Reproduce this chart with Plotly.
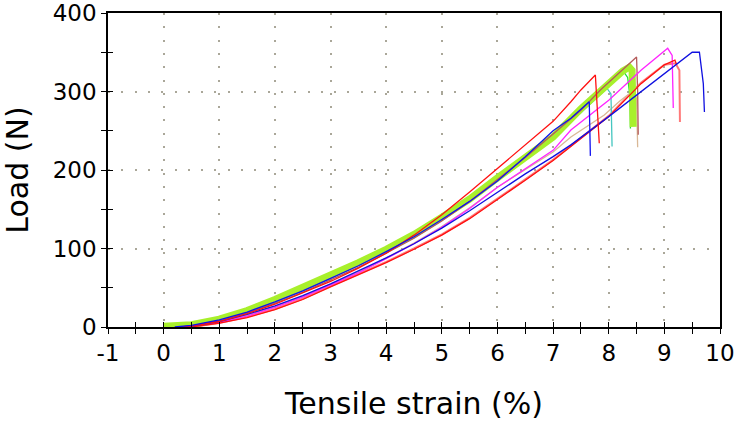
import plotly.graph_objects as go

# ---- data (strain %, load N) ----
lime_x = [0.0, 0.5, 1, 1.5, 2, 2.5, 3, 3.5, 4, 4.5, 5, 5.5, 6, 6.5, 7, 7.5, 8, 8.25, 8.37, 8.42, 8.44]
lime_y = [1, 3, 10, 21, 35, 50, 66, 82, 99, 118, 140, 163, 190, 215, 242, 278, 312, 326, 331, 327, 255]

blue1_x = [0.2, 0.5, 1, 1.5, 2, 2.5, 3, 3.5, 4, 4.5, 5, 5.5, 6, 6.5, 7, 7.32, 7.65, 7.67]
blue1_y = [0, 2, 9, 19, 32, 46, 62, 78, 96, 115, 137, 160, 186, 217, 250, 266, 287, 218]

red1_x = [0.3, 0.5, 1, 1.5, 2, 2.5, 3, 3.5, 4, 4.5, 5, 5.5, 6, 6.5, 7, 7.32, 7.5, 7.76, 7.78, 7.83]
red1_y = [0, 1, 7, 17, 29, 43, 58, 75, 94, 117, 143, 172, 202, 232, 262, 287, 302, 321, 300, 234]

brown_x = [0.3, 0.5, 1, 1.5, 2, 2.5, 3, 3.5, 4, 4.5, 5, 5.5, 6, 6.5, 7, 7.5, 7.85, 8.2, 8.5, 8.52, 8.53]
brown_y = [0, 1, 8, 18, 30, 44, 60, 76, 94, 113, 135, 160, 188, 216, 246, 276, 302, 325, 344, 300, 245]

cyan_x = [0.3, 0.5, 1, 1.5, 2, 2.5, 3, 3.5, 4, 4.5, 5, 5.5, 6, 6.5, 7, 7.5, 7.97, 8.04, 8.06]
cyan_y = [0, 1, 8, 19, 32, 46, 62, 79, 97, 117, 139, 163, 190, 216, 244, 273, 304, 297, 230]

green_x = [0.2, 0.5, 1, 1.5, 2, 2.5, 3, 3.5, 4, 4.5, 5, 5.5, 6, 6.5, 7, 7.5, 8, 8.26, 8.34, 8.38, 8.39]
green_y = [0, 2, 9, 20, 33, 47, 63, 80, 98, 117, 139, 162, 189, 215, 243, 276, 308, 326, 318, 295, 253]

tan_x = [0.4, 0.5, 1, 1.5, 2, 2.5, 3, 3.5, 4, 4.5, 5, 5.5, 6, 6.5, 7, 7.32, 7.92, 8.2, 8.46, 8.5, 8.52]
tan_y = [0, 1, 6, 15, 26, 39, 54, 70, 88, 107, 128, 152, 178, 200, 223, 242, 270, 288, 302, 290, 229]

magenta_x = [0.4, 0.5, 1, 1.5, 2, 2.5, 3, 3.5, 4, 4.5, 5, 5.5, 6, 6.5, 7, 7.32, 8, 8.58, 9.06, 9.14, 9.16]
magenta_y = [0, 1, 6, 14, 25, 38, 53, 69, 87, 106, 127, 151, 178, 202, 225, 251, 289, 327, 355, 346, 279]

blue2_x = [0.3, 0.5, 1, 1.5, 2, 2.5, 3, 3.5, 4, 4.5, 5, 5.5, 6, 6.5, 7, 7.32, 8, 8.58, 9, 9.37, 9.5, 9.63, 9.7, 9.72]
blue2_y = [0, 1, 7, 16, 27, 40, 55, 71, 88, 106, 126, 148, 172, 195, 217, 232, 268, 300, 323, 344, 350, 350, 310, 274]

red2_x = [0.4, 0.5, 1, 1.5, 2, 2.5, 3, 3.5, 4, 4.5, 5, 5.5, 6, 6.5, 7, 7.32, 8, 8.58, 9, 9.19, 9.22]
red2_y = [0, 0, 5, 12, 22, 35, 51, 66, 82, 99, 117, 138, 162, 187, 212, 230, 268, 310, 334, 340, 334]

salmon_x = [0.4, 0.5, 1, 1.5, 2, 2.5, 3, 3.5, 4, 4.5, 5, 5.5, 6, 6.5, 7, 7.32, 8, 8.58, 9, 9.2, 9.27, 9.28]
salmon_y = [0, 0, 5, 13, 23, 36, 52, 67, 83, 100, 118, 139, 163, 188, 213, 231, 269, 311, 334, 336, 327, 261]

x_ticks = [-1, 0, 1, 2, 3, 4, 5, 6, 7, 8, 9, 10]
y_ticks = [0, 100, 200, 300, 400]

series = [
    (salmon_x, salmon_y, "#ff7a7a", 2),
    (tan_x, tan_y, "#d9b896", 1.3),
    (cyan_x, cyan_y, "#45c6c0", 1.3),
    (green_x, green_y, "#22dd33", 1.3),
    (lime_x, lime_y, "#a8f02c", 7),
    (brown_x, brown_y, "#b45a5a", 1.3),
    (magenta_x, magenta_y, "#ff22ff", 1.3),
    (red2_x, red2_y, "#ff1010", 1.3),
    (blue2_x, blue2_y, "#1010e0", 1.3),
    (red1_x, red1_y, "#ff1010", 1.3),
    (blue1_x, blue1_y, "#1010f0", 1.3),
]

fig = go.Figure()
for xs, ys, col, w in series:
    fig.add_trace(go.Scatter(x=xs, y=ys, mode="lines",
                             line=dict(color=col, width=w), showlegend=False,
                             hoverinfo="skip"))

# invisible trace on the overlay axes so they render
fig.add_trace(go.Scatter(x=[-1], y=[0], xaxis="x2", yaxis="y2", mode="markers",
                         marker=dict(opacity=0), showlegend=False, hoverinfo="skip"))

font = "DejaVu Sans, Verdana, sans-serif"
grid = dict(showgrid=True, gridcolor="#aaa799", gridwidth=2, griddash="2px,11.3px")

fig.update_layout(
    width=736, height=423,
    margin=dict(l=108, r=16, t=13, b=96),
    paper_bgcolor="white", plot_bgcolor="white",
    font=dict(family=font, color="black"),
    hovermode=False,
    xaxis=dict(range=[-1, 10], tickmode="array", tickvals=x_ticks,
               ticktext=[str(v) for v in x_ticks], automargin=False,
               ticks="outside", ticklen=5, tickwidth=1.3, tickcolor="black",
               minor=dict(dtick=0.5, ticks="outside", ticklen=5, tickwidth=1.3,
                          tickcolor="black", showgrid=False),
               showline=True, linecolor="black", linewidth=1.5, mirror=True,
               zeroline=False, tickfont=dict(size=23),
               title=dict(text="Tensile strain (%)", font=dict(size=30), standoff=28),
               **grid),
    yaxis=dict(range=[0, 400], tickmode="array", tickvals=y_ticks,
               ticktext=[str(v) for v in y_ticks], automargin=False,
               ticks="outside", ticklen=5, tickwidth=1.3, tickcolor="black",
               minor=dict(dtick=50, ticks="outside", ticklen=5, tickwidth=1.3,
                          tickcolor="black", showgrid=False),
               showline=True, linecolor="black", linewidth=1.5, mirror=True,
               zeroline=False, tickfont=dict(size=23),
               title=dict(text="Load (N)", font=dict(size=30), standoff=16),
               **grid),
    xaxis2=dict(overlaying="x", matches="x", range=[-1, 10], dtick=0.5, tick0=0,
                ticks="inside", ticklen=5, tickwidth=1.3, tickcolor="black",
                showticklabels=False, showgrid=False, showline=False, zeroline=False,
                side="bottom", anchor="y2", automargin=False),
    yaxis2=dict(overlaying="y", matches="y", range=[0, 400], dtick=50, tick0=0,
                ticks="inside", ticklen=5, tickwidth=1.3, tickcolor="black",
                showticklabels=False, showgrid=False, showline=False, zeroline=False,
                side="left", anchor="x2", automargin=False),
)

# remove the browser's default body margin so the figure sits at the window origin
fig.write_html("out.html", config={"displayModeBar": False},
               post_script="document.body.style.margin='0';document.body.style.overflow='hidden';")
